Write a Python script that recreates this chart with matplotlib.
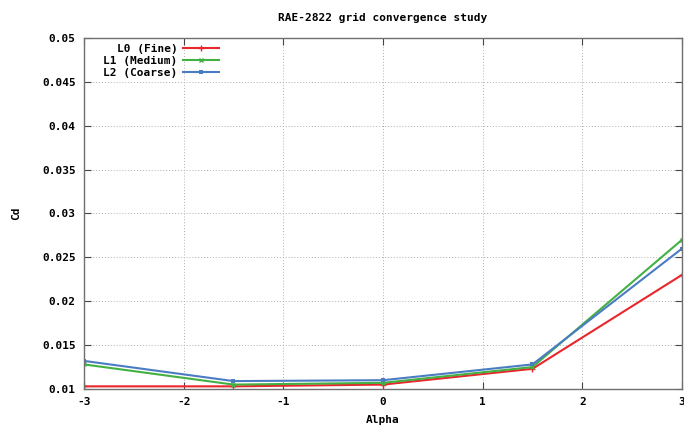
import matplotlib
matplotlib.use("Agg")
import matplotlib.pyplot as plt
import numpy as np

# ── Data ──────────────────────────────────────────────────────────────────
alpha     = [-3.0, -1.5, 0.0, 1.5, 3.0]
cd_fine   = [0.0103, 0.0103, 0.0105, 0.0123, 0.0230]
cd_medium = [0.0128, 0.0105, 0.0107, 0.0125, 0.0270]
cd_coarse = [0.0132, 0.0109, 0.0110, 0.0128, 0.0260]

x_ticks = [-3, -2, -1, 0, 1, 2, 3]
y_ticks = [0.01, 0.015, 0.02, 0.025, 0.03, 0.035, 0.04, 0.045, 0.05]

# ── Style ─────────────────────────────────────────────────────────────────
plt.rcParams["font.family"] = ["DejaVu Sans Mono"]
plt.rcParams["font.weight"] = "bold"
FS = 8

fig = plt.figure(figsize=(6.84, 4.26), dpi=100)
ax = fig.add_axes([0.1228, 0.0869, 0.8742, 0.8239])

ax.plot(alpha, cd_fine, color="#e8262b", lw=1.5, marker="+", ms=4, mew=1.0,
        label="L0 (Fine)")
ax.plot(alpha, cd_medium, color="#43b043", lw=1.5, marker="x", ms=3.5, mew=1.0,
        label="L1 (Medium)")
ax.plot(alpha, cd_coarse, color="#4a7cc4", lw=1.5, marker="s", ms=3, mew=0,
        label="L2 (Coarse)")

ax.set_xlim(-3, 3)
ax.set_ylim(0.01, 0.05)
ax.set_xticks(x_ticks)
ax.set_yticks(y_ticks)
ax.set_xticklabels([str(v) for v in x_ticks], fontsize=FS, fontweight="bold")
ax.set_yticklabels([f"{v:g}" for v in y_ticks], fontsize=FS, fontweight="bold")

ax.grid(True, color="#b0b0b0", ls=(0, (1, 2)), lw=0.7)
ax.tick_params(direction="in", length=5, width=0.8, color="#444444",
               top=True, right=True, pad=6)
for s in ax.spines.values():
    s.set_color("#707070")
    s.set_linewidth(1.0)

ax.set_title("RAE-2822 grid convergence study", fontsize=FS, fontweight="bold",
             pad=12)
ax.set_xlabel("Alpha", fontsize=FS, fontweight="bold")
ax.set_ylabel("Cd", fontsize=FS, fontweight="bold")
ax.xaxis.set_label_coords(0.5, -0.075)
ax.yaxis.set_label_coords(-0.105, 0.5)

ax.legend(loc="upper left", frameon=False, markerfirst=False, fontsize=FS,
          handlelength=3.2, handletextpad=0.5, labelspacing=0.2,
          borderaxespad=0.0, bbox_to_anchor=(0.025, 0.997))

fig.savefig("out.png", dpi=100)
